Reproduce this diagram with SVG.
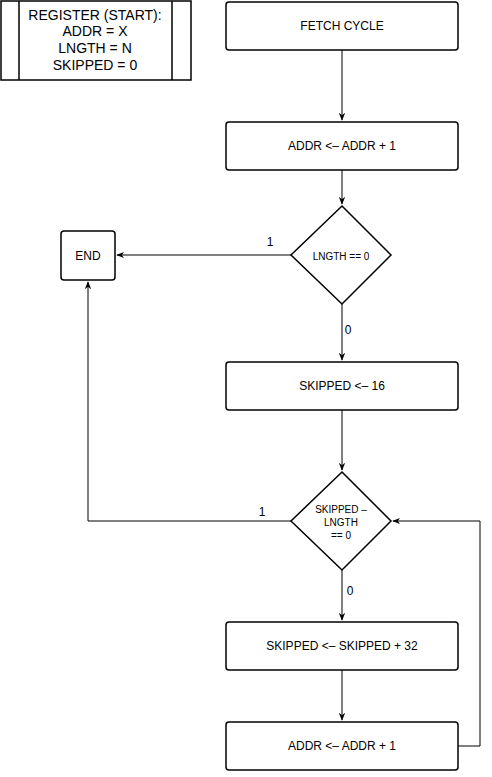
<svg xmlns="http://www.w3.org/2000/svg" width="492" height="777" viewBox="0 0 492 777">
<style>
.box{fill:#fff;stroke:#000;stroke-width:1.5}
.t{font-family:"Liberation Sans",Arial,sans-serif;font-size:12px;fill:#000;text-anchor:middle;dominant-baseline:central}
.s{font-size:10px}
.r{font-size:14px}
.e{fill:none;stroke:#000;stroke-width:1}
</style>
<defs>
<marker id="ah" viewBox="0 0 10 10" refX="9" refY="5" markerWidth="8" markerHeight="8" markerUnits="userSpaceOnUse" orient="auto">
<path d="M0,1 L10,5 L0,9 L3,5 Z" fill="#000"/>
</marker>
</defs>
<rect width="492" height="777" fill="#fff"/>
<g id="connectors">
<path class="e" d="M342,50 V120" marker-end="url(#ah)"/>
<path class="e" d="M342,170 V204" marker-end="url(#ah)"/>
<path class="e" d="M291,255 H117" marker-end="url(#ah)"/>
<path class="e" d="M342,304 V360" marker-end="url(#ah)"/>
<path class="e" d="M342,410 V470" marker-end="url(#ah)"/>
<path class="e" d="M291,521 H88 V282" marker-end="url(#ah)"/>
<path class="e" d="M342,570 V620" marker-end="url(#ah)"/>
<path class="e" d="M342,670 V720" marker-end="url(#ah)"/>
<path class="e" d="M458,746 H480 V521 H393" marker-end="url(#ah)"/>
<text class="t" x="270" y="242">1</text>
<text class="t" x="348" y="330">0</text>
<text class="t" x="262" y="512">1</text>
<text class="t" x="350" y="591">0</text>
</g>
<g id="register">
<rect class="box" x="1" y="1" width="190" height="79"/>
<path d="M19,1 V80 M172,1 V80" stroke="#000" stroke-width="1.5"/>
<text class="t r" x="95" y="15">REGISTER (START):</text>
<text class="t r" x="95" y="31">ADDR = X</text>
<text class="t r" x="95" y="48">LNGTH = N</text>
<text class="t r" x="95" y="65">SKIPPED = 0</text>
</g>
<g id="fetch">
<rect class="box" x="226" y="2" width="232" height="48" rx="3"/>
<text class="t" x="342" y="26">FETCH CYCLE</text>
</g>
<g id="addr1">
<rect class="box" x="226" y="122" width="232" height="48" rx="3"/>
<text class="t" x="342" y="146">ADDR &lt;– ADDR + 1</text>
</g>
<g id="dec1">
<path class="box" d="M342,206 L391,255 L342,304 L291,255 Z"/>
<text class="t s" x="341" y="256">LNGTH == 0</text>
</g>
<g id="end">
<rect class="box" x="61" y="231" width="54" height="49" rx="3"/>
<text class="t" x="88" y="256">END</text>
</g>
<g id="skip16">
<rect class="box" x="226" y="362" width="232" height="48" rx="3"/>
<text class="t" x="342" y="386">SKIPPED &lt;– 16</text>
</g>
<g id="dec2">
<path class="box" d="M342,472 L391,521 L342,570 L291,521 Z"/>
<text class="t s" x="341" y="509">SKIPPED –</text>
<text class="t s" x="341" y="522">LNGTH</text>
<text class="t s" x="341" y="535">== 0</text>
</g>
<g id="skip32">
<rect class="box" x="226" y="622" width="232" height="48" rx="3"/>
<text class="t" x="342" y="646">SKIPPED &lt;– SKIPPED + 32</text>
</g>
<g id="addr2">
<rect class="box" x="226" y="722" width="232" height="48" rx="3"/>
<text class="t" x="342" y="746">ADDR &lt;– ADDR + 1</text>
</g>
</svg>
